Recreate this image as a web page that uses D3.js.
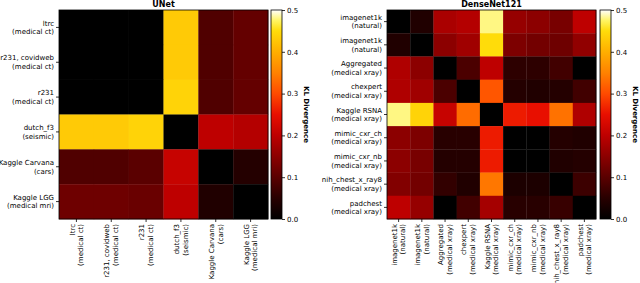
<!DOCTYPE html>
<html>
<head>
    <title>KL Divergence heatmaps</title>
    <script src="https://d3js.org/d3.v7.min.js"></script>
    <style>
        body { margin: 0; background: #fff; }
        text { font-family: "DejaVu Sans", sans-serif; fill: #000; }
    </style>
</head>
<body>
    <svg class="chart" width="640" height="283"></svg>

    <script>
// labels are "name|subtitle"
const unetLabels = [
    'ltrc|(medical ct)',
    'r231, covidweb|(medical ct)',
    'r231|(medical ct)',
    'dutch_f3|(seismic)',
    'Kaggle Carvana|(cars)',
    'Kaggle LGG|(medical mri)'
];
const unetValues = [
    [0.000, 0.000, 0.000, 0.430, 0.090, 0.110],
    [0.000, 0.000, 0.000, 0.430, 0.090, 0.110],
    [0.000, 0.000, 0.000, 0.440, 0.090, 0.110],
    [0.430, 0.430, 0.440, 0.000, 0.200, 0.190],
    [0.090, 0.090, 0.100, 0.210, 0.000, 0.045],
    [0.120, 0.120, 0.115, 0.200, 0.040, 0.000]
];

const densenetLabels = [
    'imagenet1k|(natural)',
    'imagenet1k|(natural)',
    'Aggregated|(medical xray)',
    'chexpert|(medical xray)',
    'Kaggle RSNA|(medical xray)',
    'mimic_cxr_ch|(medical xray)',
    'mimic_cxr_nb|(medical xray)',
    'nih_chest_x_ray8|(medical xray)',
    'padchest|(medical xray)'
];
const densenetValues = [
    [0.000, 0.040, 0.180, 0.190, 0.480, 0.160, 0.150, 0.130, 0.200],
    [0.040, 0.000, 0.150, 0.170, 0.450, 0.135, 0.125, 0.120, 0.155],
    [0.185, 0.150, 0.000, 0.085, 0.200, 0.055, 0.055, 0.075, 0.000],
    [0.185, 0.170, 0.085, 0.000, 0.310, 0.045, 0.040, 0.045, 0.075],
    [0.480, 0.440, 0.210, 0.330, 0.000, 0.260, 0.250, 0.335, 0.185],
    [0.150, 0.135, 0.050, 0.050, 0.260, 0.000, 0.000, 0.045, 0.040],
    [0.150, 0.130, 0.045, 0.045, 0.260, 0.000, 0.000, 0.040, 0.045],
    [0.140, 0.125, 0.060, 0.040, 0.340, 0.035, 0.035, 0.000, 0.070],
    [0.200, 0.160, 0.000, 0.075, 0.175, 0.050, 0.050, 0.065, 0.000]
];

const colorbarTicks = [0.0, 0.1, 0.2, 0.3, 0.4, 0.5];

// heat-like colour map, 0 .. 0.5
const cmapStops = [
    [0.000, '#000000'], [0.050, 'rgb(40,0,0)'], [0.100, 'rgb(90,0,0)'],
    [0.150, 'rgb(140,0,0)'], [0.200, 'rgb(190,0,0)'], [0.250, 'rgb(232,15,0)'],
    [0.300, 'rgb(255,75,0)'], [0.350, 'rgb(255,130,0)'], [0.400, 'rgb(255,175,0)'],
    [0.450, 'rgb(255,220,10)'], [0.475, 'rgb(255,245,100)'], [0.500, '#ffffff']
];
const color = d3.scaleLinear()
    .domain(cmapStops.map(d => d[0]))
    .range(cmapStops.map(d => d[1]))
    .interpolate(d3.interpolateRgb)
    .clamp(true);

const svg = d3.select('.chart');

function twoLineLeft(sel) {
    sel.each(function() {
        const t = d3.select(this);
        const parts = t.text().split('|');
        t.text(null).attr('x', null).attr('dy', null);
        t.append('tspan').attr('x', -5).attr('y', -4.3).attr('dy', '0.35em').text(parts[0]);
        t.append('tspan').attr('x', -5).attr('y', 4.3).attr('dy', '0.35em').text(parts[1]);
    });
}

function twoLineBottom(sel) {
    sel.each(function() {
        const t = d3.select(this);
        const parts = t.text().split('|');
        t.text(null).attr('x', null).attr('y', null).attr('dy', null)
            .attr('transform', 'rotate(-90)')
            .style('text-anchor', 'end');
        t.append('tspan').attr('x', -5).attr('y', -4.3).attr('dy', '0.35em').text(parts[0]);
        t.append('tspan').attr('x', -5).attr('y', 4.3).attr('dy', '0.35em').text(parts[1]);
    });
}

function plotarHeatmap(cfg) {
    const n = cfg.labels.length;
    const idx = d3.range(n);
    const g = svg.append('g').attr('transform', `translate(${cfg.left},${cfg.top})`);

    const x = d3.scaleBand().domain(idx).range([0, cfg.size]);
    const y = d3.scaleBand().domain(idx).range([0, cfg.size]);

    const cells = [];
    cfg.values.forEach((row, r) => row.forEach((v, c) => cells.push({ r, c, v })));

    g.selectAll('.cell')
        .data(cells)
        .enter().append('rect')
        .attr('class', 'cell')
        .attr('x', d => x(d.c))
        .attr('y', d => y(d.r))
        .attr('width', x.bandwidth() + 0.3)
        .attr('height', y.bandwidth() + 0.3)
        .attr('fill', d => color(d.v));

    g.append('rect')
        .attr('width', cfg.size).attr('height', cfg.size)
        .attr('fill', 'none').attr('stroke', '#000').attr('stroke-width', 0.8);

    // eixos
    const ay = g.append('g')
        .call(d3.axisLeft(y).tickSize(3).tickFormat(i => cfg.labels[i]));
    const ax = g.append('g')
        .attr('transform', `translate(0,${cfg.size})`)
        .call(d3.axisBottom(x).tickSize(3).tickFormat(i => cfg.labels[i]));
    [ax, ay].forEach(a => {
        a.select('.domain').remove();
        a.selectAll('line').attr('stroke', '#000').attr('stroke-width', 0.8);
        a.selectAll('text').attr('font-size', 7).attr('font-family', '"DejaVu Sans", sans-serif');
    });
    ay.selectAll('.tick text').call(twoLineLeft);
    ax.selectAll('.tick text').call(twoLineBottom);

    // titulo
    g.append('text')
        .attr('x', cfg.size / 2).attr('y', -3)
        .attr('text-anchor', 'middle')
        .attr('font-size', 8).attr('font-weight', 'bold')
        .text(cfg.title);

    // barra de cores
    const gradId = 'grad-' + cfg.title.replace(/\W/g, '');
    const grad = svg.append('defs').append('linearGradient')
        .attr('id', gradId).attr('x1', 0).attr('y1', 1).attr('x2', 0).attr('y2', 0);
    cmapStops.forEach(s => grad.append('stop')
        .attr('offset', s[0] / 0.5).attr('stop-color', s[1]));

    const cb = svg.append('g').attr('transform', `translate(${cfg.cbLeft},${cfg.top})`);
    cb.append('rect')
        .attr('width', cfg.cbWidth).attr('height', cfg.size)
        .attr('fill', `url(#${gradId})`)
        .attr('stroke', '#000').attr('stroke-width', 0.8);

    const cy = d3.scaleLinear().domain([0, 0.5]).range([cfg.size, 0]);
    const ca = cb.append('g')
        .attr('transform', `translate(${cfg.cbWidth},0)`)
        .call(d3.axisRight(cy).tickValues(colorbarTicks).tickSize(3).tickFormat(d3.format('.1f')));
    ca.select('.domain').remove();
    ca.selectAll('line').attr('stroke', '#000').attr('stroke-width', 0.8);
    ca.selectAll('text').attr('font-size', 7).attr('x', 5)
        .attr('font-family', '"DejaVu Sans", sans-serif');

    cb.append('text')
        .attr('transform', `translate(${cfg.cbWidth + cfg.labelGap},${cfg.size / 2}) rotate(90)`)
        .attr('text-anchor', 'middle')
        .attr('dy', '0.35em')
        .attr('font-size', 7).attr('font-weight', 'bold')
        .text('KL Divergence');
}

plotarHeatmap({
    title: 'UNet', labels: unetLabels, values: unetValues,
    left: 59, top: 10, size: 209, cbLeft: 271, cbWidth: 11, labelGap: 24
});
plotarHeatmap({
    title: 'DenseNet121', labels: densenetLabels, values: densenetValues,
    left: 387, top: 10, size: 209, cbLeft: 600, cbWidth: 11, labelGap: 24
});
    </script>
</body>
</html>
